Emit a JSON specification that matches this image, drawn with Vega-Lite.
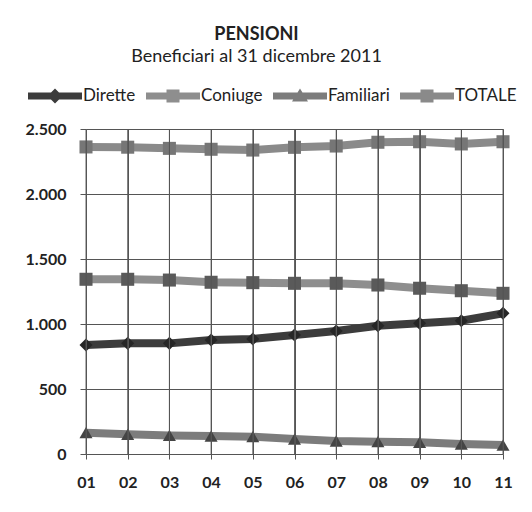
{
  "$schema": "https://vega.github.io/schema/vega-lite/v6.json",
  "width": 417,
  "height": 325,
  "autosize": "none",
  "padding": {"left": 86, "top": 129, "right": 29, "bottom": 58},
  "background": "white",
  "title": {
    "text": "PENSIONI",
    "subtitle": "Beneficiari al 31 dicembre 2011",
    "anchor": "middle",
    "dx": -38,
    "font": "Lato",
    "fontSize": 18,
    "fontWeight": "bold",
    "color": "#222",
    "subtitleFont": "Lato",
    "subtitleFontSize": 18,
    "subtitleColor": "#222",
    "subtitlePadding": 4,
    "offset": 20
  },
  "data": {
    "values": [
      {"anno": 1, "serie": "Dirette", "valore": 838},
      {"anno": 2, "serie": "Dirette", "valore": 851},
      {"anno": 3, "serie": "Dirette", "valore": 851},
      {"anno": 4, "serie": "Dirette", "valore": 877},
      {"anno": 5, "serie": "Dirette", "valore": 885},
      {"anno": 6, "serie": "Dirette", "valore": 915},
      {"anno": 7, "serie": "Dirette", "valore": 946},
      {"anno": 8, "serie": "Dirette", "valore": 987},
      {"anno": 9, "serie": "Dirette", "valore": 1005},
      {"anno": 10, "serie": "Dirette", "valore": 1025},
      {"anno": 11, "serie": "Dirette", "valore": 1082},
      {"anno": 1, "serie": "Coniuge", "valore": 1344},
      {"anno": 2, "serie": "Coniuge", "valore": 1344},
      {"anno": 3, "serie": "Coniuge", "valore": 1338},
      {"anno": 4, "serie": "Coniuge", "valore": 1321},
      {"anno": 5, "serie": "Coniuge", "valore": 1318},
      {"anno": 6, "serie": "Coniuge", "valore": 1313},
      {"anno": 7, "serie": "Coniuge", "valore": 1313},
      {"anno": 8, "serie": "Coniuge", "valore": 1300},
      {"anno": 9, "serie": "Coniuge", "valore": 1275},
      {"anno": 10, "serie": "Coniuge", "valore": 1256},
      {"anno": 11, "serie": "Coniuge", "valore": 1236},
      {"anno": 1, "serie": "Familiari", "valore": 164},
      {"anno": 2, "serie": "Familiari", "valore": 151},
      {"anno": 3, "serie": "Familiari", "valore": 143},
      {"anno": 4, "serie": "Familiari", "valore": 138},
      {"anno": 5, "serie": "Familiari", "valore": 133},
      {"anno": 6, "serie": "Familiari", "valore": 115},
      {"anno": 7, "serie": "Familiari", "valore": 100},
      {"anno": 8, "serie": "Familiari", "valore": 95},
      {"anno": 9, "serie": "Familiari", "valore": 90},
      {"anno": 10, "serie": "Familiari", "valore": 77},
      {"anno": 11, "serie": "Familiari", "valore": 69},
      {"anno": 1, "serie": "TOTALE", "valore": 2362},
      {"anno": 2, "serie": "TOTALE", "valore": 2360},
      {"anno": 3, "serie": "TOTALE", "valore": 2351},
      {"anno": 4, "serie": "TOTALE", "valore": 2344},
      {"anno": 5, "serie": "TOTALE", "valore": 2338},
      {"anno": 6, "serie": "TOTALE", "valore": 2359},
      {"anno": 7, "serie": "TOTALE", "valore": 2369},
      {"anno": 8, "serie": "TOTALE", "valore": 2398},
      {"anno": 9, "serie": "TOTALE", "valore": 2402},
      {"anno": 10, "serie": "TOTALE", "valore": 2385},
      {"anno": 11, "serie": "TOTALE", "valore": 2402}
    ]
  },
  "layer": [
    {
      "mark": {"type": "line", "strokeWidth": 8},
      "encoding": {
        "x": {
          "field": "anno",
          "type": "quantitative",
          "scale": {"domain": [1, 11], "nice": false, "zero": false},
          "axis": {
            "title": null,
            "values": [1, 2, 3, 4, 5, 6, 7, 8, 9, 10, 11],
            "format": "02d",
            "grid": true,
            "gridColor": "#555555",
            "gridOpacity": 1,
            "zindex": 1,
            "domain": false,
            "tickColor": "#555555",
            "tickSize": 5,
            "labelPadding": 15,
            "labelFont": "Lato",
            "labelFontSize": 16,
            "labelFontWeight": "bold",
            "labelColor": "#222",
            "labelFlush": false
          }
        },
        "y": {
          "field": "valore",
          "type": "quantitative",
          "scale": {"domain": [0, 2500], "nice": false},
          "axis": {
            "title": null,
            "values": [0, 500, 1000, 1500, 2000, 2500],
            "labelExpr": "replace(format(datum.value, ','), ',', '.')",
            "grid": true,
            "gridColor": "#555555",
            "gridOpacity": 1,
            "gridWidth": 1,
            "domain": false,
            "tickColor": "#555555",
            "tickSize": 6,
            "labelPadding": 14,
            "labelFont": "Lato",
            "labelFontSize": 16,
            "labelFontWeight": "bold",
            "labelColor": "#222"
          }
        },
        "color": {
          "field": "serie",
          "type": "nominal",
          "sort": ["Dirette", "Coniuge", "Familiari", "TOTALE"],
          "scale": {
            "domain": ["Dirette", "Coniuge", "Familiari", "TOTALE"],
            "range": ["#3c3c3c", "#8e8e8e", "#7c7c7c", "#8a8a8a"]
          },
          "legend": {
            "title": null,
            "orient": "none",
            "direction": "horizontal",
            "legendX": -58,
            "legendY": -43,
            "symbolType": "M-1,-0.35H4.4V0.35H-1Z",
            "symbolSize": 400,
            "symbolStrokeWidth": 0,
            "labelOffset": 35,
            "columnPadding": 10,
            "labelFont": "Lato",
            "labelFontSize": 17,
            "labelColor": "#222",
            "encode": {
              "symbols": {
                "update": {
                  "fill": {"signal": "scale('color', datum.value)"},
                  "fillOpacity": {"value": 1},
                  "strokeWidth": {"value": 0},
                  "shape": {"signal": "datum.value == 'Dirette' ? 'M-1,-0.35H4.4V0.35H-1Z M1.7,-0.75L2.45,0L1.7,0.75L0.95,0Z' : datum.value == 'Familiari' ? 'M-1,-0.35H4.4V0.35H-1Z M1.7,-0.75L2.5,0.55H0.9Z' : 'M-1,-0.35H4.4V0.35H-1Z M1.05,-0.65H2.35V0.65H1.05Z'"}
                }
              }
            }
          }
        },
        "detail": {"field": "serie"}
      }
    },
    {
      "transform": [{"filter": "datum.serie == 'Dirette'"}],
      "mark": {"type": "point", "filled": true, "size": 170, "opacity": 1, "shape": "diamond", "color": "#262626"},
      "encoding": {"x": {"field": "anno", "type": "quantitative"}, "y": {"field": "valore", "type": "quantitative"}}
    },
    {
      "transform": [{"filter": "datum.serie == 'Familiari'"}],
      "mark": {"type": "point", "filled": true, "size": 170, "opacity": 1, "shape": "triangle-up", "color": "#444444"},
      "encoding": {"x": {"field": "anno", "type": "quantitative"}, "y": {"field": "valore", "type": "quantitative"}}
    },
    {
      "transform": [{"filter": "datum.serie == 'Coniuge'"}],
      "mark": {"type": "point", "filled": true, "size": 170, "opacity": 1, "shape": "square", "color": "#5a5a5a"},
      "encoding": {"x": {"field": "anno", "type": "quantitative"}, "y": {"field": "valore", "type": "quantitative"}}
    },
    {
      "transform": [{"filter": "datum.serie == 'TOTALE'"}],
      "mark": {"type": "point", "filled": true, "size": 170, "opacity": 1, "shape": "square", "color": "#767676"},
      "encoding": {"x": {"field": "anno", "type": "quantitative"}, "y": {"field": "valore", "type": "quantitative"}}
    },
    {
      "transform": [{"filter": "datum.serie == 'TOTALE'"}],
      "mark": {"type": "rule", "color": "#555555", "strokeWidth": 1, "opacity": 0.9},
      "encoding": {
        "x": {"field": "anno", "type": "quantitative"},
        "y": {"datum": 0, "type": "quantitative"},
        "y2": {"datum": 2500}
      }
    }
  ],
  "config": {
    "view": {"stroke": null}
  }
}
